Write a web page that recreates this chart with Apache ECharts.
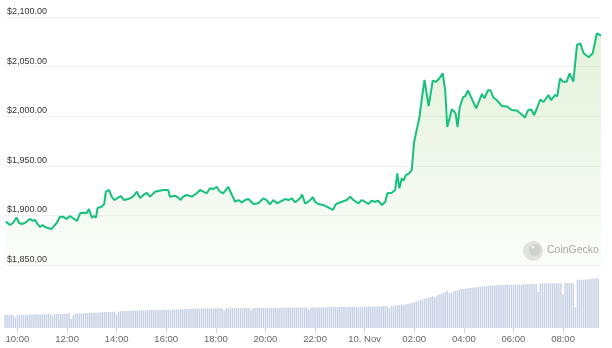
<!DOCTYPE html>
<html>
<head>
<meta charset="utf-8">
<script src="https://cdn.jsdelivr.net/npm/echarts@6/dist/echarts.min.js"></script>
<style>
  html, body { margin: 0; padding: 0; background: #ffffff; }
  #chart { width: 612px; height: 348px; }
</style>
</head>
<body>
<div id="chart"></div>
<script>
// ---- Data ----
// Price points, 9 Nov 2023 (time, USD)
const priceNov9 = [
  ['09:32',1893.7],['09:42',1890.3],['09:49',1892.3],['09:58',1897.7],['10:04',1892.3],['10:10',1891.3],
  ['10:18',1892.3],['10:22',1890.3],['10:30',1896.4],['10:38',1894.4],['10:43',1895.4],['10:47',1892.3],
  ['10:55',1888.3],['11:01',1890.3],['11:07',1888.3],['11:14',1887.3],['11:23',1886.3],['11:29',1889.6],
  ['11:35',1892.3],['11:43',1898.7],['11:50',1898.7],['11:59',1896.4],['12:07',1899.4],['12:14',1897.4],
  ['12:24',1894.4],['12:32',1902.4],['12:40',1902.7],['12:48',1902.4],['12:53',1906.5],['13:00',1897.7],
  ['13:05',1899.4],['13:10',1897.7],['13:14',1907.5],['13:24',1908.8],['13:30',1911.5],['13:34',1923.9],
  ['13:42',1925.6],['13:48',1918.9],['13:55',1915.5],['14:04',1917.9],['14:10',1919.6],['14:18',1915.5],
  ['14:28',1916.5],['14:40',1918.9],['14:49',1923.9],['14:57',1917.6],['15:05',1920.6],['15:13',1922.6],
  ['15:21',1918.9],['15:33',1923.9],['15:41',1924.6],['15:53',1925.6],['16:05',1925.6],['16:09',1918.9],
  ['16:21',1919.9],['16:29',1917.9],['16:35',1915.5],['16:41',1918.9],['16:50',1920.6],['17:02',1918.9],
  ['17:14',1922.3],['17:22',1925.6],['17:30',1923.9],['17:38',1922.3],['17:46',1927.3],['17:54',1926.6],
  ['18:02',1928.9],['18:10',1923.9],['18:18',1922.3],['18:30',1928.9],['18:39',1920.6],['18:47',1913.8],
  ['18:55',1915.5],['19:03',1913.2],['19:11',1915.5],['19:19',1916.5],['19:31',1911.5],['19:43',1912.2],
  ['19:55',1917.2],['20:03',1915.5],['20:11',1911.2],['20:19',1915.5],['20:28',1912.2],['20:36',1913.8],
  ['20:48',1916.5],['20:56',1915.5],['21:04',1917.2],['21:12',1913.2],['21:24',1917.2],['21:29',1921.1],
  ['21:36',1912.0],['21:44',1913.8],['21:55',1918.3],['22:00',1913.8],['22:08',1911.5],['22:20',1910.5],
  ['22:28',1908.8],['22:36',1907.2],['22:43',1905.5],['22:51',1911.5],['23:05',1913.8],['23:17',1915.5],
  ['23:25',1918.9],['23:33',1915.5],['23:45',1912.2],['23:53',1915.5]
];
// Price points, 10 Nov 2023 (time, USD)
const priceNov10 = [
  ['00:01',1913.8],['00:09',1911.5],['00:17',1914.8],['00:25',1913.8],['00:33',1914.8],['00:42',1910.5],
  ['00:50',1913.8],['00:55',1922.3],['01:06',1922.9],['01:14',1925.6],['01:19',1942.4],['01:24',1927.3],
  ['01:30',1937.4],['01:34',1935.0],['01:40',1940.7],['01:48',1942.4],['01:54',1945.8],['02:00',1974.3],
  ['02:06',1986.1],['02:13',1999.5],['02:18',2016.3],['02:25',2036.5],['02:29',2034.5],['02:35',2010.3],
  ['02:45',2035.8],['02:53',2034.8],['03:01',2038.2],['03:09',2043.2],['03:15',2026.4],['03:20',1989.1],
  ['03:31',2007.0],['03:40',2003.2],['03:45',1989.1],['03:50',2008.8],['03:58',2018.9],['04:04',2020.4],
  ['04:10',2025.9],['04:19',2018.0],['04:30',2008.0],['04:38',2016.3],['04:44',2022.4],['04:50',2018.0],
  ['04:59',2026.4],['05:05',2025.9],['05:11',2019.1],['05:21',2015.8],['05:32',2010.3],['05:45',2009.8],
  ['05:56',2006.3],['06:08',2005.8],['06:16',2003.2],['06:28',1998.7],['06:36',2006.3],['06:43',2006.8],
  ['06:50',2001.2],['06:57',2008.0],['07:05',2016.8],['07:13',2014.3],['07:25',2021.4],['07:31',2016.3],
  ['07:41',2021.4],['07:46',2019.9],['07:53',2038.2],['08:00',2034.8],['08:09',2034.8],['08:16',2043.2],
  ['08:25',2034.8],['08:29',2036.5],['08:34',2071.8],['08:42',2073.5],['08:50',2063.4],['09:02',2059.4],
  ['09:12',2063.4],['09:22',2083.6],['09:26',2084.2],['09:32',2081.2]
];
// 24h volume (billion USD), one bar every 5 minutes from 09:30 on 9 Nov
const volumeValues = [
  5.2,5.3,5.2,5.3,5.2,4.2,5.2,5.3,5.3,5.3,5.4,5.3,
  5.4,5.4,5.4,5.5,5.5,5.4,5.5,5.5,5.6,5.6,5.5,4.9,
  5.6,5.6,5.6,5.6,5.7,5.7,5.8,5.8,3.6,5.0,5.8,5.8,
  5.8,5.9,5.9,6.0,6.0,6.0,6.1,6.1,6.2,6.2,6.3,6.3,
  6.3,6.4,6.4,6.5,6.5,6.5,5.4,6.6,6.8,6.8,6.8,6.9,
  6.9,6.9,7.0,7.0,7.0,7.0,7.1,7.1,7.1,7.1,7.2,7.2,
  7.2,7.2,7.2,7.2,7.3,7.3,7.3,7.3,7.3,7.4,7.4,7.4,
  7.5,7.5,7.5,7.6,7.6,7.6,7.7,7.7,7.7,7.8,7.8,7.8,
  7.8,7.8,7.9,7.9,7.9,7.9,7.9,7.9,7.9,7.9,7.0,7.9,
  7.9,7.9,8.0,8.0,8.0,8.0,8.0,8.0,8.0,8.0,8.0,7.2,
  8.0,8.0,8.1,8.1,8.1,8.1,8.1,8.1,8.1,8.1,8.1,8.1,
  8.1,8.1,8.2,8.2,8.2,8.2,8.2,8.2,8.2,8.2,8.2,8.2,
  8.2,8.2,8.2,7.4,8.2,8.3,8.3,8.3,8.3,8.3,8.3,8.3,
  8.3,8.4,8.4,8.4,8.4,8.4,8.4,8.5,8.5,8.5,8.5,8.5,
  8.5,8.5,8.5,8.5,8.5,8.6,8.6,8.6,8.6,8.6,8.6,8.6,
  8.6,8.7,8.7,8.7,8.8,8.8,8.0,8.9,9.0,9.0,9.1,9.2,
  9.2,9.3,9.4,9.6,9.8,10.0,10.3,10.6,10.9,11.2,11.5,11.8,
  12.0,12.2,12.4,12.6,12.2,13.0,13.4,13.6,13.8,14.4,14.8,14.0,
  14.2,14.6,15.0,15.2,15.4,15.6,15.6,15.8,15.9,16.0,16.1,16.2,
  16.3,16.4,16.5,16.6,16.7,16.8,16.9,17.0,17.0,17.1,17.1,17.2,
  17.2,17.2,17.3,17.3,17.3,17.3,17.4,17.4,17.4,17.4,17.4,17.5,
  17.5,17.5,17.5,17.6,17.6,17.6,14.4,17.8,17.8,17.9,17.9,17.9,
  17.9,17.9,17.9,17.9,17.9,17.9,13.6,18.0,18.0,18.0,18.0,18.0,
  8.3,19.2,19.3,19.2,19.4,19.5,19.4,19.6,19.7,19.8,19.9,19.9
];
const priceTicks = [1850, 1900, 1950, 2000, 2050, 2100];
const midnightLabel = '10. Nov';

// ---- Build series data ----
const t = (day, hhmm) => {
  const [h, m] = hhmm.split(':').map(Number);
  return new Date(2023, 10, day, h, m).getTime();
};
const pad = n => (n < 10 ? '0' : '') + n;
const priceData = priceNov9.map(p => [t(9, p[0]), p[1]])
  .concat(priceNov10.map(p => [t(10, p[0]), p[1]]));
const volStart = t(9, '09:30');
// category labels for the volume bars (their start times)
const volumeCats = volumeValues.map((v, i) => {
  const d = new Date(volStart + i * 5 * 60000);
  return pad(d.getHours()) + ':' + pad(d.getMinutes());
});
const xMin = t(9, '09:30');
const xMax = t(10, '09:32');

const isTickCat = (idx, val) => {
  const [h, m] = val.split(':').map(Number);
  return m === 0 && h % 2 === 0;
};
const fmtMoney = v => '$' + Number(v).toLocaleString('en-US', { minimumFractionDigits: 2, maximumFractionDigits: 2 });

const chart = echarts.init(document.getElementById('chart'), null, { renderer: 'canvas' });
chart.setOption({
  animation: false,
  backgroundColor: '#ffffff',
  textStyle: { fontFamily: 'Liberation Sans, Arial, sans-serif' },
  grid: [
    { left: 5, right: 11, top: 17, height: 248 },
    { left: 4, right: 12.8, bottom: 20, height: 80 }
  ],
  xAxis: [
    { type: 'time', gridIndex: 0, min: xMin, max: xMax, show: false, splitLine: { show: false } },
    {
      type: 'category', gridIndex: 1, data: volumeCats, boundaryGap: true,
      axisLine: { show: false },
      axisTick: { show: true, length: 5, alignWithLabel: true, interval: isTickCat, lineStyle: { color: '#ccd6eb' } },
      splitLine: { show: false },
      axisLabel: {
        color: '#666666', fontSize: 9.5, margin: 6, interval: isTickCat,
        fontFamily: 'Liberation Sans, Arial, sans-serif',
        formatter: v => (v === '00:00' ? midnightLabel : v)
      }
    }
  ],
  yAxis: [
    {
      type: 'value', gridIndex: 0,
      min: priceTicks[0], max: priceTicks[priceTicks.length - 1], interval: 50,
      axisLine: { show: false }, axisTick: { show: false },
      splitLine: { show: true, lineStyle: { color: '#f0f0f0', width: 1 } },
      axisLabel: {
        inside: true, margin: 2, verticalAlign: 'bottom',
        color: '#333333', fontSize: 9, padding: [0, 0, 1, 0],
        fontFamily: 'Liberation Sans, Arial, sans-serif',
        formatter: fmtMoney
      }
    },
    { type: 'value', gridIndex: 1, min: 0, max: 32, show: false, splitLine: { show: false } }
  ],
  series: [
    {
      type: 'bar', xAxisIndex: 1, yAxisIndex: 1,
      data: volumeValues, barWidth: 1.5,
      itemStyle: { color: '#c8d2e5' },
      silent: true
    },
    {
      type: 'line', xAxisIndex: 0, yAxisIndex: 0,
      data: priceData, showSymbol: false, symbol: 'none', smooth: false,
      lineStyle: { color: '#16c17e', width: 2 },
      areaStyle: {
        origin: 'start',
        color: new echarts.graphic.LinearGradient(0, 0, 0, 1, [
          { offset: 0, color: 'rgba(130,195,90,0.32)' },
          { offset: 1, color: 'rgba(130,195,90,0.05)' }
        ])
      },
      z: 3
    }
  ],
  graphic: [
    { type: 'circle', shape: { cx: 533, cy: 251, r: 10 }, style: { fill: '#e3e3e3' }, z: 1 },
    { type: 'circle', shape: { cx: 535, cy: 250, r: 6 }, style: { fill: '#d2d2d2' }, z: 1 },
    { type: 'circle', shape: { cx: 533, cy: 247, r: 1.5 }, style: { fill: '#f5f5f5' }, z: 1 },
    { type: 'text', left: 547, top: 245, style: { text: 'CoinGecko', fill: '#a8a8a8', font: '10.5px Liberation Sans, Arial, sans-serif' }, z: 1 }
  ]
});
</script>
</body>
</html>
